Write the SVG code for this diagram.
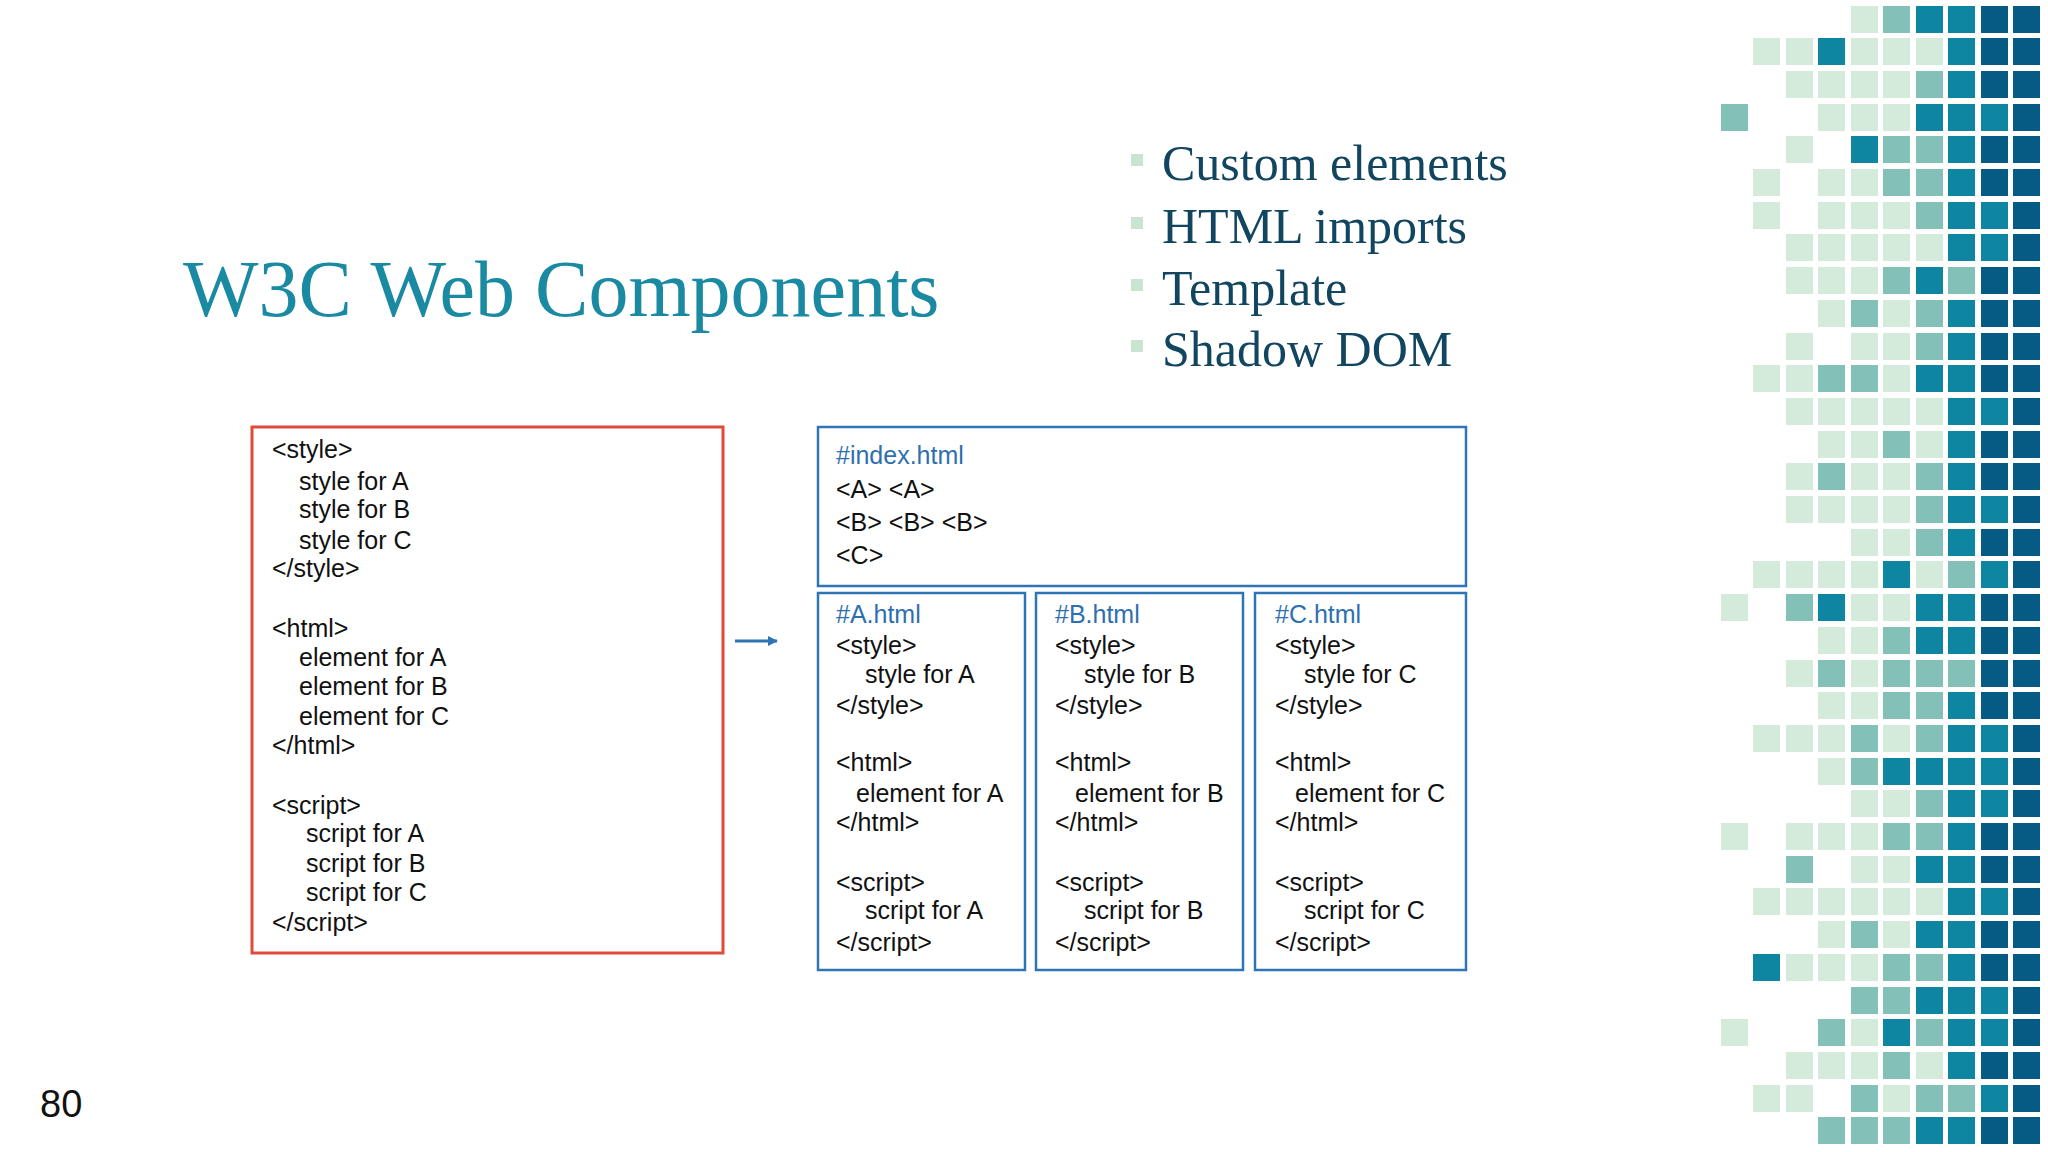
<svg xmlns="http://www.w3.org/2000/svg" width="2048" height="1152" viewBox="0 0 2048 1152">
<style>
.L{fill:#d4eadb}.M{fill:#82c0b8}.T{fill:#0e86a2}.D{fill:#065b84}
.mono{font-family:"Liberation Sans",Arial,sans-serif;font-size:25px;fill:#111}
.blu{fill:#2e6fb0}
.box{fill:none;stroke:#2e75b6;stroke-width:2.5}
.bul{font-family:"Liberation Serif","Times New Roman",serif;font-size:50px;fill:#12455f}
</style>
<defs><marker id="ah" markerWidth="10" markerHeight="10" refX="9" refY="5" orient="auto" markerUnits="userSpaceOnUse"><path d="M0,0 L10,5 L0,10 z" fill="#2e75b6"/></marker></defs>
<rect width="2048" height="1152" fill="#fff"/>
<g id="mosaic">
<g transform="translate(0,6)"><rect class="L" x="1851" width="27" height="27"/><rect class="M" x="1883" width="27" height="27"/><rect class="T" x="1916" width="27" height="27"/><rect class="T" x="1948" width="27" height="27"/><rect class="D" x="1981" width="27" height="27"/><rect class="D" x="2013" width="27" height="27"/></g>
<g transform="translate(0,38)"><rect class="L" x="1753" width="27" height="27"/><rect class="L" x="1786" width="27" height="27"/><rect class="T" x="1818" width="27" height="27"/><rect class="L" x="1851" width="27" height="27"/><rect class="L" x="1883" width="27" height="27"/><rect class="L" x="1916" width="27" height="27"/><rect class="T" x="1948" width="27" height="27"/><rect class="D" x="1981" width="27" height="27"/><rect class="D" x="2013" width="27" height="27"/></g>
<g transform="translate(0,71)"><rect class="L" x="1786" width="27" height="27"/><rect class="L" x="1818" width="27" height="27"/><rect class="L" x="1851" width="27" height="27"/><rect class="L" x="1883" width="27" height="27"/><rect class="M" x="1916" width="27" height="27"/><rect class="T" x="1948" width="27" height="27"/><rect class="D" x="1981" width="27" height="27"/><rect class="D" x="2013" width="27" height="27"/></g>
<g transform="translate(0,104)"><rect class="M" x="1721" width="27" height="27"/><rect class="L" x="1818" width="27" height="27"/><rect class="L" x="1851" width="27" height="27"/><rect class="L" x="1883" width="27" height="27"/><rect class="T" x="1916" width="27" height="27"/><rect class="T" x="1948" width="27" height="27"/><rect class="T" x="1981" width="27" height="27"/><rect class="D" x="2013" width="27" height="27"/></g>
<g transform="translate(0,136)"><rect class="L" x="1786" width="27" height="27"/><rect class="T" x="1851" width="27" height="27"/><rect class="M" x="1883" width="27" height="27"/><rect class="M" x="1916" width="27" height="27"/><rect class="T" x="1948" width="27" height="27"/><rect class="D" x="1981" width="27" height="27"/><rect class="D" x="2013" width="27" height="27"/></g>
<g transform="translate(0,169)"><rect class="L" x="1753" width="27" height="27"/><rect class="L" x="1818" width="27" height="27"/><rect class="L" x="1851" width="27" height="27"/><rect class="M" x="1883" width="27" height="27"/><rect class="M" x="1916" width="27" height="27"/><rect class="T" x="1948" width="27" height="27"/><rect class="D" x="1981" width="27" height="27"/><rect class="D" x="2013" width="27" height="27"/></g>
<g transform="translate(0,202)"><rect class="L" x="1753" width="27" height="27"/><rect class="L" x="1818" width="27" height="27"/><rect class="L" x="1851" width="27" height="27"/><rect class="L" x="1883" width="27" height="27"/><rect class="M" x="1916" width="27" height="27"/><rect class="T" x="1948" width="27" height="27"/><rect class="T" x="1981" width="27" height="27"/><rect class="D" x="2013" width="27" height="27"/></g>
<g transform="translate(0,234)"><rect class="L" x="1786" width="27" height="27"/><rect class="L" x="1818" width="27" height="27"/><rect class="L" x="1851" width="27" height="27"/><rect class="L" x="1883" width="27" height="27"/><rect class="L" x="1916" width="27" height="27"/><rect class="T" x="1948" width="27" height="27"/><rect class="T" x="1981" width="27" height="27"/><rect class="D" x="2013" width="27" height="27"/></g>
<g transform="translate(0,267)"><rect class="L" x="1786" width="27" height="27"/><rect class="L" x="1818" width="27" height="27"/><rect class="L" x="1851" width="27" height="27"/><rect class="M" x="1883" width="27" height="27"/><rect class="T" x="1916" width="27" height="27"/><rect class="M" x="1948" width="27" height="27"/><rect class="D" x="1981" width="27" height="27"/><rect class="D" x="2013" width="27" height="27"/></g>
<g transform="translate(0,300)"><rect class="L" x="1818" width="27" height="27"/><rect class="M" x="1851" width="27" height="27"/><rect class="L" x="1883" width="27" height="27"/><rect class="M" x="1916" width="27" height="27"/><rect class="T" x="1948" width="27" height="27"/><rect class="D" x="1981" width="27" height="27"/><rect class="D" x="2013" width="27" height="27"/></g>
<g transform="translate(0,333)"><rect class="L" x="1786" width="27" height="27"/><rect class="L" x="1851" width="27" height="27"/><rect class="L" x="1883" width="27" height="27"/><rect class="M" x="1916" width="27" height="27"/><rect class="T" x="1948" width="27" height="27"/><rect class="D" x="1981" width="27" height="27"/><rect class="D" x="2013" width="27" height="27"/></g>
<g transform="translate(0,365)"><rect class="L" x="1753" width="27" height="27"/><rect class="L" x="1786" width="27" height="27"/><rect class="M" x="1818" width="27" height="27"/><rect class="M" x="1851" width="27" height="27"/><rect class="L" x="1883" width="27" height="27"/><rect class="T" x="1916" width="27" height="27"/><rect class="T" x="1948" width="27" height="27"/><rect class="D" x="1981" width="27" height="27"/><rect class="D" x="2013" width="27" height="27"/></g>
<g transform="translate(0,398)"><rect class="L" x="1786" width="27" height="27"/><rect class="L" x="1818" width="27" height="27"/><rect class="L" x="1851" width="27" height="27"/><rect class="L" x="1883" width="27" height="27"/><rect class="L" x="1916" width="27" height="27"/><rect class="T" x="1948" width="27" height="27"/><rect class="T" x="1981" width="27" height="27"/><rect class="D" x="2013" width="27" height="27"/></g>
<g transform="translate(0,431)"><rect class="L" x="1818" width="27" height="27"/><rect class="L" x="1851" width="27" height="27"/><rect class="M" x="1883" width="27" height="27"/><rect class="L" x="1916" width="27" height="27"/><rect class="T" x="1948" width="27" height="27"/><rect class="D" x="1981" width="27" height="27"/><rect class="D" x="2013" width="27" height="27"/></g>
<g transform="translate(0,463)"><rect class="L" x="1786" width="27" height="27"/><rect class="M" x="1818" width="27" height="27"/><rect class="L" x="1851" width="27" height="27"/><rect class="L" x="1883" width="27" height="27"/><rect class="M" x="1916" width="27" height="27"/><rect class="T" x="1948" width="27" height="27"/><rect class="D" x="1981" width="27" height="27"/><rect class="D" x="2013" width="27" height="27"/></g>
<g transform="translate(0,496)"><rect class="L" x="1786" width="27" height="27"/><rect class="L" x="1818" width="27" height="27"/><rect class="L" x="1851" width="27" height="27"/><rect class="L" x="1883" width="27" height="27"/><rect class="M" x="1916" width="27" height="27"/><rect class="T" x="1948" width="27" height="27"/><rect class="T" x="1981" width="27" height="27"/><rect class="D" x="2013" width="27" height="27"/></g>
<g transform="translate(0,529)"><rect class="L" x="1851" width="27" height="27"/><rect class="L" x="1883" width="27" height="27"/><rect class="M" x="1916" width="27" height="27"/><rect class="T" x="1948" width="27" height="27"/><rect class="D" x="1981" width="27" height="27"/><rect class="D" x="2013" width="27" height="27"/></g>
<g transform="translate(0,561)"><rect class="L" x="1753" width="27" height="27"/><rect class="L" x="1786" width="27" height="27"/><rect class="L" x="1818" width="27" height="27"/><rect class="L" x="1851" width="27" height="27"/><rect class="T" x="1883" width="27" height="27"/><rect class="L" x="1916" width="27" height="27"/><rect class="M" x="1948" width="27" height="27"/><rect class="T" x="1981" width="27" height="27"/><rect class="D" x="2013" width="27" height="27"/></g>
<g transform="translate(0,594)"><rect class="L" x="1721" width="27" height="27"/><rect class="M" x="1786" width="27" height="27"/><rect class="T" x="1818" width="27" height="27"/><rect class="L" x="1851" width="27" height="27"/><rect class="L" x="1883" width="27" height="27"/><rect class="T" x="1916" width="27" height="27"/><rect class="T" x="1948" width="27" height="27"/><rect class="D" x="1981" width="27" height="27"/><rect class="D" x="2013" width="27" height="27"/></g>
<g transform="translate(0,627)"><rect class="L" x="1818" width="27" height="27"/><rect class="L" x="1851" width="27" height="27"/><rect class="M" x="1883" width="27" height="27"/><rect class="T" x="1916" width="27" height="27"/><rect class="T" x="1948" width="27" height="27"/><rect class="D" x="1981" width="27" height="27"/><rect class="D" x="2013" width="27" height="27"/></g>
<g transform="translate(0,660)"><rect class="L" x="1786" width="27" height="27"/><rect class="M" x="1818" width="27" height="27"/><rect class="L" x="1851" width="27" height="27"/><rect class="M" x="1883" width="27" height="27"/><rect class="M" x="1916" width="27" height="27"/><rect class="M" x="1948" width="27" height="27"/><rect class="D" x="1981" width="27" height="27"/><rect class="D" x="2013" width="27" height="27"/></g>
<g transform="translate(0,692)"><rect class="L" x="1818" width="27" height="27"/><rect class="L" x="1851" width="27" height="27"/><rect class="M" x="1883" width="27" height="27"/><rect class="M" x="1916" width="27" height="27"/><rect class="T" x="1948" width="27" height="27"/><rect class="D" x="1981" width="27" height="27"/><rect class="D" x="2013" width="27" height="27"/></g>
<g transform="translate(0,725)"><rect class="L" x="1753" width="27" height="27"/><rect class="L" x="1786" width="27" height="27"/><rect class="L" x="1818" width="27" height="27"/><rect class="M" x="1851" width="27" height="27"/><rect class="L" x="1883" width="27" height="27"/><rect class="M" x="1916" width="27" height="27"/><rect class="T" x="1948" width="27" height="27"/><rect class="T" x="1981" width="27" height="27"/><rect class="D" x="2013" width="27" height="27"/></g>
<g transform="translate(0,758)"><rect class="L" x="1818" width="27" height="27"/><rect class="M" x="1851" width="27" height="27"/><rect class="T" x="1883" width="27" height="27"/><rect class="T" x="1916" width="27" height="27"/><rect class="T" x="1948" width="27" height="27"/><rect class="T" x="1981" width="27" height="27"/><rect class="D" x="2013" width="27" height="27"/></g>
<g transform="translate(0,790)"><rect class="L" x="1851" width="27" height="27"/><rect class="L" x="1883" width="27" height="27"/><rect class="M" x="1916" width="27" height="27"/><rect class="T" x="1948" width="27" height="27"/><rect class="T" x="1981" width="27" height="27"/><rect class="D" x="2013" width="27" height="27"/></g>
<g transform="translate(0,823)"><rect class="L" x="1721" width="27" height="27"/><rect class="L" x="1786" width="27" height="27"/><rect class="L" x="1818" width="27" height="27"/><rect class="L" x="1851" width="27" height="27"/><rect class="M" x="1883" width="27" height="27"/><rect class="M" x="1916" width="27" height="27"/><rect class="T" x="1948" width="27" height="27"/><rect class="D" x="1981" width="27" height="27"/><rect class="D" x="2013" width="27" height="27"/></g>
<g transform="translate(0,856)"><rect class="M" x="1786" width="27" height="27"/><rect class="L" x="1851" width="27" height="27"/><rect class="L" x="1883" width="27" height="27"/><rect class="T" x="1916" width="27" height="27"/><rect class="T" x="1948" width="27" height="27"/><rect class="D" x="1981" width="27" height="27"/><rect class="D" x="2013" width="27" height="27"/></g>
<g transform="translate(0,888)"><rect class="L" x="1753" width="27" height="27"/><rect class="L" x="1786" width="27" height="27"/><rect class="L" x="1818" width="27" height="27"/><rect class="L" x="1851" width="27" height="27"/><rect class="L" x="1883" width="27" height="27"/><rect class="L" x="1916" width="27" height="27"/><rect class="T" x="1948" width="27" height="27"/><rect class="T" x="1981" width="27" height="27"/><rect class="D" x="2013" width="27" height="27"/></g>
<g transform="translate(0,921)"><rect class="L" x="1818" width="27" height="27"/><rect class="M" x="1851" width="27" height="27"/><rect class="L" x="1883" width="27" height="27"/><rect class="T" x="1916" width="27" height="27"/><rect class="T" x="1948" width="27" height="27"/><rect class="D" x="1981" width="27" height="27"/><rect class="D" x="2013" width="27" height="27"/></g>
<g transform="translate(0,954)"><rect class="T" x="1753" width="27" height="27"/><rect class="L" x="1786" width="27" height="27"/><rect class="L" x="1818" width="27" height="27"/><rect class="L" x="1851" width="27" height="27"/><rect class="M" x="1883" width="27" height="27"/><rect class="M" x="1916" width="27" height="27"/><rect class="T" x="1948" width="27" height="27"/><rect class="D" x="1981" width="27" height="27"/><rect class="D" x="2013" width="27" height="27"/></g>
<g transform="translate(0,987)"><rect class="M" x="1851" width="27" height="27"/><rect class="M" x="1883" width="27" height="27"/><rect class="T" x="1916" width="27" height="27"/><rect class="T" x="1948" width="27" height="27"/><rect class="T" x="1981" width="27" height="27"/><rect class="D" x="2013" width="27" height="27"/></g>
<g transform="translate(0,1019)"><rect class="L" x="1721" width="27" height="27"/><rect class="M" x="1818" width="27" height="27"/><rect class="L" x="1851" width="27" height="27"/><rect class="T" x="1883" width="27" height="27"/><rect class="M" x="1916" width="27" height="27"/><rect class="T" x="1948" width="27" height="27"/><rect class="T" x="1981" width="27" height="27"/><rect class="D" x="2013" width="27" height="27"/></g>
<g transform="translate(0,1052)"><rect class="L" x="1786" width="27" height="27"/><rect class="L" x="1818" width="27" height="27"/><rect class="L" x="1851" width="27" height="27"/><rect class="M" x="1883" width="27" height="27"/><rect class="L" x="1916" width="27" height="27"/><rect class="T" x="1948" width="27" height="27"/><rect class="D" x="1981" width="27" height="27"/><rect class="D" x="2013" width="27" height="27"/></g>
<g transform="translate(0,1085)"><rect class="L" x="1753" width="27" height="27"/><rect class="L" x="1786" width="27" height="27"/><rect class="M" x="1851" width="27" height="27"/><rect class="L" x="1883" width="27" height="27"/><rect class="M" x="1916" width="27" height="27"/><rect class="M" x="1948" width="27" height="27"/><rect class="T" x="1981" width="27" height="27"/><rect class="D" x="2013" width="27" height="27"/></g>
<g transform="translate(0,1117)"><rect class="M" x="1818" width="27" height="27"/><rect class="M" x="1851" width="27" height="27"/><rect class="M" x="1883" width="27" height="27"/><rect class="T" x="1916" width="27" height="27"/><rect class="T" x="1948" width="27" height="27"/><rect class="D" x="1981" width="27" height="27"/><rect class="D" x="2013" width="27" height="27"/></g>
</g>
<g id="title"><text x="183" y="316" font-family="'Liberation Serif','Times New Roman',serif" font-size="80" fill="#1a8aa3">W3C Web Components</text></g>
<g id="bullets">
<rect x="1131" y="154" width="12" height="12" fill="#c9e5d2"/><text class="bul" x="1162" y="180">Custom elements</text>
<rect x="1131" y="217" width="12" height="12" fill="#c9e5d2"/><text class="bul" x="1162" y="243">HTML imports</text>
<rect x="1131" y="279" width="12" height="12" fill="#c9e5d2"/><text class="bul" x="1162" y="305">Template</text>
<rect x="1131" y="340" width="12" height="12" fill="#c9e5d2"/><text class="bul" x="1162" y="366">Shadow DOM</text>
</g>
<g id="page"><text x="40" y="1117" font-family="'Liberation Sans',Arial,sans-serif" font-size="38" fill="#111">80</text></g>
<g id="monolith">
<rect x="252" y="427" width="471" height="526" fill="none" stroke="#e04a3a" stroke-width="3"/>
<text class="mono"><tspan x="272" y="458">&lt;style&gt;</tspan><tspan x="299" y="490">style for A</tspan><tspan x="299" y="518">style for B</tspan><tspan x="299" y="549">style for C</tspan><tspan x="272" y="577">&lt;/style&gt;</tspan><tspan x="272" y="637">&lt;html&gt;</tspan><tspan x="299" y="666">element for A</tspan><tspan x="299" y="695">element for B</tspan><tspan x="299" y="725">element for C</tspan><tspan x="272" y="754">&lt;/html&gt;</tspan><tspan x="272" y="814">&lt;script&gt;</tspan><tspan x="306" y="842">script for A</tspan><tspan x="306" y="872">script for B</tspan><tspan x="306" y="901">script for C</tspan><tspan x="272" y="931">&lt;/script&gt;</tspan></text>
</g>
<g id="connectors"><line x1="735" y1="641" x2="777" y2="641" stroke="#2e75b6" stroke-width="3" marker-end="url(#ah)"/></g>
<g id="index">
<rect class="box" x="818" y="427" width="648" height="159"/>
<text class="mono" font-size="27"><tspan class="blu" x="836" y="464">#index.html</tspan><tspan x="836" y="498">&lt;A&gt; &lt;A&gt;</tspan><tspan x="836" y="531">&lt;B&gt; &lt;B&gt; &lt;B&gt;</tspan><tspan x="836" y="564">&lt;C&gt;</tspan></text>
</g>
<g id="fileA">
<rect class="box" x="818" y="593" width="207" height="377"/>
<text class="mono"><tspan class="blu" x="836" y="623">#A.html</tspan><tspan x="836" y="654">&lt;style&gt;</tspan><tspan x="865" y="683">style for A</tspan><tspan x="836" y="714">&lt;/style&gt;</tspan><tspan x="836" y="771">&lt;html&gt;</tspan><tspan x="856" y="802">element for A</tspan><tspan x="836" y="831">&lt;/html&gt;</tspan><tspan x="836" y="891">&lt;script&gt;</tspan><tspan x="865" y="919">script for A</tspan><tspan x="836" y="951">&lt;/script&gt;</tspan></text>
</g>
<g id="fileB">
<rect class="box" x="1036" y="593" width="207" height="377"/>
<text class="mono"><tspan class="blu" x="1055" y="623">#B.html</tspan><tspan x="1055" y="654">&lt;style&gt;</tspan><tspan x="1084" y="683">style for B</tspan><tspan x="1055" y="714">&lt;/style&gt;</tspan><tspan x="1055" y="771">&lt;html&gt;</tspan><tspan x="1075" y="802">element for B</tspan><tspan x="1055" y="831">&lt;/html&gt;</tspan><tspan x="1055" y="891">&lt;script&gt;</tspan><tspan x="1084" y="919">script for B</tspan><tspan x="1055" y="951">&lt;/script&gt;</tspan></text>
</g>
<g id="fileC">
<rect class="box" x="1255" y="593" width="211" height="377"/>
<text class="mono"><tspan class="blu" x="1275" y="623">#C.html</tspan><tspan x="1275" y="654">&lt;style&gt;</tspan><tspan x="1304" y="683">style for C</tspan><tspan x="1275" y="714">&lt;/style&gt;</tspan><tspan x="1275" y="771">&lt;html&gt;</tspan><tspan x="1295" y="802">element for C</tspan><tspan x="1275" y="831">&lt;/html&gt;</tspan><tspan x="1275" y="891">&lt;script&gt;</tspan><tspan x="1304" y="919">script for C</tspan><tspan x="1275" y="951">&lt;/script&gt;</tspan></text>
</g>
</svg>
